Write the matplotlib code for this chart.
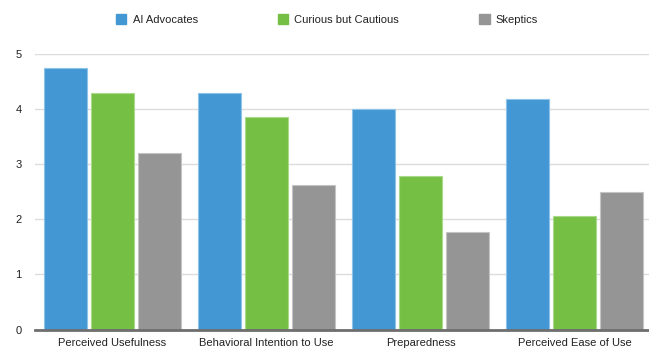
import matplotlib
matplotlib.use("Agg")
import matplotlib.pyplot as plt
from matplotlib.patches import Patch
import numpy as np

plt.rcParams['font.family'] = ['Liberation Sans', 'DejaVu Sans']

categories = ["Perceived Usefulness", "Behavioral Intention to Use",
              "Preparedness", "Perceived Ease of Use"]
series_names = ["AI Advocates", "Curious but Cautious", "Skeptics"]
ai_advocates = [4.75, 4.29, 4.00, 4.19]
curious_cautious = [4.29, 3.85, 2.78, 2.06]
skeptics = [3.20, 2.63, 1.77, 2.49]
y_ticks = [0, 1, 2, 3, 4, 5]

colors = ["#4398D4", "#76BF45", "#959595"]
edge_colors = ["#8EC3E8", "#A9D98A", "#C4C4C4"]

W, H = 649, 350
fig = plt.figure(figsize=(W / 100, H / 100), dpi=100)
ax = fig.add_axes([35 / W, (H - 329.5) / H, (649 - 35) / W, (329.5 - 54) / H])

x = np.arange(len(categories))
bar_w = 0.279
step = 0.305
for i, (vals, c, ec, name) in enumerate(zip(
        [ai_advocates, curious_cautious, skeptics], colors, edge_colors, series_names)):
    ax.bar(x + (i - 1) * step, vals, width=bar_w, color=c, edgecolor=ec,
           linewidth=0.8, zorder=3, label=name)

ax.set_xlim(-0.503, 3.484)
ax.set_ylim(0, 5)
ax.set_yticks(y_ticks)
ax.set_yticklabels([str(t) for t in y_ticks])
ax.set_xticks(x)
ax.set_xticklabels(categories)
ax.yaxis.grid(True, color="#DCDCDC", linewidth=1.0, zorder=0)
ax.set_axisbelow(True)
for s in ["top", "right", "left"]:
    ax.spines[s].set_visible(False)
ax.spines["bottom"].set_color("#6E6E6E")
ax.spines["bottom"].set_linewidth(2.0)
ax.spines["bottom"].set_zorder(4)
ax.tick_params(axis="both", length=0, labelsize=8, labelcolor="#222222")
ax.tick_params(axis="x", pad=6)
ax.tick_params(axis="y", pad=9.5)

handles = [Patch(facecolor=c, edgecolor=c) for c in colors]
fig.legend(handles, series_names, loc="center", bbox_to_anchor=(327 / W, 1 - 19.5 / H),
           ncol=3, frameon=False, fontsize=8, handlelength=0.95, handleheight=0.95,
           handletextpad=0.55, columnspacing=7.2, labelcolor="#222222")

fig.savefig("out.png", dpi=100)
